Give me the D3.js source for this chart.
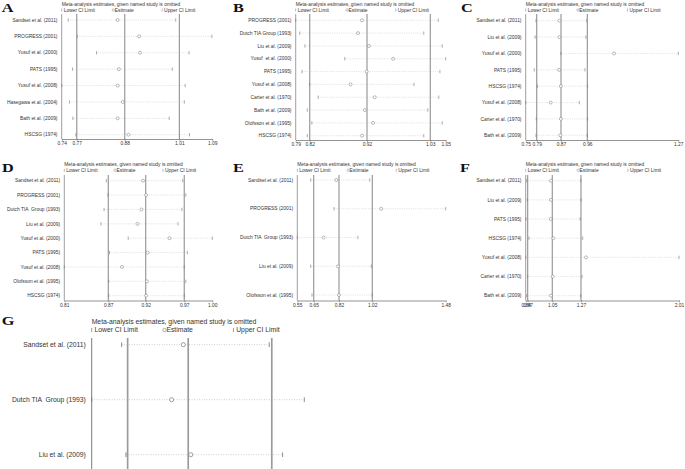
<!DOCTYPE html>
<html>
<head>
<meta charset="utf-8">
<script src="https://cdn.jsdelivr.net/npm/d3@7"></script>
<style>
body{margin:0;background:#fff}
svg{display:block}
text{white-space:pre}
</style>
</head>
<body>
<svg id="chart" width="685" height="469"></svg>
<script>
// A
var studiesA=["Sandset et al. (2011)","PROGRESS (2001)","Yusuf et al. (2000)","PATS (1995)","Yusuf et al. (2008)","Hasegawa et al. (2004)","Bath et al. (2009)","HSCSG (1974)"];
var lowerA=[0.755,0.776,0.821,0.765,0.740,0.758,0.766,0.773];
var estA=[0.870,0.920,0.922,0.873,0.870,0.882,0.870,0.895];
var upperA=[1.005,1.089,1.036,0.997,1.027,1.025,0.990,1.037];
var ticksA=[0.74,0.775,0.8865,1.0135,1.09];
var tickLabelsA=["0.74","0.77","0.88","1.01","1.09"];

// B
var studiesB=["PROGRESS (2001)","Dutch TIA Group (1993)","Liu et al. (2009)","Yusuf  et al. (2000)","PATS (1995)","Yusuf et al. (2008)","Carter et al. (1970)","Bath et al. (2009)","Olofsson et al. (1995)","HSCSG (1974)"];
var lowerB=[0.790,0.797,0.806,0.875,0.801,0.814,0.829,0.810,0.818,0.810];
var estB=[0.905,0.898,0.917,0.959,0.913,0.885,0.927,0.910,0.924,0.905];
var upperB=[1.037,1.012,1.044,1.050,1.040,0.995,1.038,1.019,1.044,1.012];
var ticksB=[0.79,0.8143,0.9136,1.0233,1.05];
var tickLabelsB=["0.79","0.82","0.92","1.03","1.05"];

// C
var studiesC=["Sandset et al. (2011)","Liu et al. (2009)","Yusuf et al. (2000)","PATS (1995)","HSCSG (1974)","Yusuf et al. (2008)","Carter et al. (1970)","Bath et al. (2009)"];
var lowerC=[0.785,0.782,0.870,0.779,0.790,0.750,0.786,0.785];
var estC=[0.865,0.865,1.051,0.864,0.870,0.835,0.870,0.868];
var upperC=[0.958,0.955,1.270,0.952,0.961,0.933,0.961,0.960];
var ticksC=[0.75,0.7875,0.8703,0.96,1.27];
var tickLabelsC=["0.75","0.79","0.87","0.96","1.27"];

// D
var studiesD=["Sandset et al. (2011)","PROGRESS (2001)","Dutch TIA  Group (1993)","Liu et al. (2009)","Yusuf et al. (2000)","PATS (1995)","Yusuf et al. (2008)","Olofsson et al. (1995)","HSCSG (1974)"];
var lowerD=[0.864,0.866,0.861,0.857,0.892,0.868,0.810,0.867,0.867];
var estD=[0.911,0.915,0.909,0.904,0.945,0.917,0.884,0.916,0.915];
var upperD=[0.962,0.966,0.961,0.956,1.000,0.968,0.964,0.966,0.964];
var ticksD=[0.81,0.8665,0.9145,0.964,1.00];
var tickLabelsD=["0.81","0.87","0.92","0.97","1.00"];

// E
var studiesE=["Sandset et al. (2011)","PROGRESS (2001)","Dutch TIA  Group (1993)","Liu et al. (2009)","Olofsson et al. (1995)"];
var lowerE=[0.634,0.780,0.550,0.634,0.642];
var estE=[0.794,1.076,0.715,0.805,0.811];
var upperE=[1.004,1.480,0.930,1.014,1.020];
var ticksE=[0.55,0.6528,0.8113,1.02,1.48];
var tickLabelsE=["0.55","0.65","0.82","1.02","1.48"];

// F
var studiesF=["Sandset et al. (2011)","Liu et al. (2009)","PATS (1995)","HSCSG (1974)","Yusuf et al. (2008)","Carter et al. (1970)","Bath et al. (2009)"];
var lowerF=[0.848,0.852,0.842,0.865,0.840,0.855,0.848];
var estF=[1.033,1.033,1.031,1.051,1.300,1.046,1.033];
var upperF=[1.260,1.262,1.255,1.275,2.010,1.270,1.260];
var ticksF=[0.84,0.855,1.043,1.262,2.01];
var tickLabelsF=["0.84","0.87","1.05","1.27","2.01"];

// G (its x axis is cut off in the figure, values estimated from positions)
var studiesG=["Sandset et al. (2011)","Dutch TIA  Group (1993)","Liu et al. (2009)"];
var lowerG=[0.741,0.600,0.761];
var estG=[1.031,0.976,1.066];
var upperG=[1.435,1.600,1.498];
var ticksG=[0.60,0.769,1.054,1.447,1.60];

var title="Meta-analysis estimates, given named study is omitted";

var panels=[
  {letter:"A",studies:studiesA,lower:lowerA,est:estA,upper:upperA,ticks:ticksA,labels:tickLabelsA},
  {letter:"B",studies:studiesB,lower:lowerB,est:estB,upper:upperB,ticks:ticksB,labels:tickLabelsB},
  {letter:"C",studies:studiesC,lower:lowerC,est:estC,upper:upperC,ticks:ticksC,labels:tickLabelsC},
  {letter:"D",studies:studiesD,lower:lowerD,est:estD,upper:upperD,ticks:ticksD,labels:tickLabelsD},
  {letter:"E",studies:studiesE,lower:lowerE,est:estE,upper:upperE,ticks:ticksE,labels:tickLabelsE},
  {letter:"F",studies:studiesF,lower:lowerF,est:estF,upper:upperF,ticks:ticksF,labels:tickLabelsF},
  {letter:"G",studies:studiesG,lower:lowerG,est:estG,upper:upperG,ticks:ticksG,labels:null}
];

// where each panel sits on the page
var layout={
  A:{x0:61.7,x1:212.3,top:14,row0:20,row1:134.7,axisY:139,titleY:4,lx:1.7,ly:11.7,fs:4.9},
  B:{x0:295.7,x1:445.7,top:14,row0:20.3,row1:135.7,axisY:140,titleY:4,lx:233,ly:11.7,fs:4.9},
  C:{x0:525.7,x1:678.3,top:14,row0:20.7,row1:135.3,axisY:140,titleY:4,lx:461,ly:11.7,fs:4.9},
  D:{x0:64.3,x1:212.3,top:175,row0:180.7,row1:295.7,axisY:300.5,titleY:164.3,lx:2,ly:172,fs:4.9},
  E:{x0:297.3,x1:445.7,top:175,row0:180,row1:295,axisY:300.5,titleY:164.3,lx:233,ly:172,fs:4.9},
  F:{x0:525.7,x1:679,top:175,row0:180.7,row1:295.7,axisY:300.5,titleY:164.3,lx:460,ly:172,fs:4.9},
  G:{x0:91.7,x1:304.3,top:338,row0:344.7,row1:454.7,axisY:480,titleY:321.7,lx:1.7,ly:325,fs:6.8}
};

var svg=d3.select("#chart");
var font="Liberation Sans, Arial, sans-serif";

function drawPanel(p){
  var L=layout[p.letter], fs=L.fs, k=fs/4.9;
  var g=svg.append("g");
  var x=d3.scaleLinear().domain([p.ticks[0],p.ticks[p.ticks.length-1]]).range([L.x0,L.x1]);
  var y=d3.scalePoint().domain(p.studies).range([L.row0,L.row1]);

  //panel letter
  g.append("text")
    .attr("transform","translate("+L.lx+","+L.ly+") scale(1.3,1)")
    .attr("font-family","Liberation Serif, Times New Roman, serif")
    .attr("font-weight","bold")
    .attr("font-size",12.5)
    .attr("fill","#111")
    .text(p.letter);

  //title + legend
  g.append("text")
    .attr("x",L.x0).attr("y",L.titleY).attr("dy","0.35em")
    .attr("font-family",font).attr("font-size",fs).attr("fill","#333")
    .text(title);
  var w=L.x1-L.x0, ly=L.titleY+6*k;
  [0,2].forEach(function(j){
    var lx=L.x0+j*w/3;
    g.append("line").attr("x1",lx).attr("x2",lx).attr("y1",ly-1.5*k).attr("y2",ly+1.5*k)
      .attr("stroke","#888").attr("stroke-width",0.6*k);
  });
  g.append("circle").attr("cx",L.x0+w/3+1.4*k).attr("cy",ly).attr("r",1.2*k)
    .attr("fill","none").attr("stroke","#888").attr("stroke-width",0.5*k);
  var legTxt=[["Lower CI Limit",L.x0+2*k],["Estimate",L.x0+w/3+2.8*k],["Upper CI Limit",L.x0+2*w/3+2*k]];
  legTxt.forEach(function(t){
    g.append("text").attr("x",t[1]).attr("y",ly).attr("dy","0.35em")
      .attr("font-family",font).attr("font-size",fs).attr("fill","#333").text(t[0]);
  });

  //reference lines for overall lower, estimate, upper
  g.selectAll(".ref").data(p.ticks.slice(1,4)).enter().append("line")
    .attr("x1",d=>x(d)).attr("x2",d=>x(d))
    .attr("y1",L.top).attr("y2",L.axisY)
    .attr("stroke","#9a9a9a").attr("stroke-width",1.2*k);

  //left axis line
  g.append("line").attr("x1",L.x0).attr("x2",L.x0).attr("y1",L.top).attr("y2",L.axisY)
    .attr("stroke","#777").attr("stroke-width",0.7*k);

  //x axis (not visible for G, the figure is cut there)
  if (p.labels){
    var axis=d3.axisBottom(x)
      .tickValues(p.ticks)
      .tickFormat(function(d,i){return p.labels[i];})
      .tickSize(1.8*k).tickSizeOuter(0).tickPadding(1.2*k);
    var ax=g.append("g").attr("transform","translate(0,"+L.axisY+")").call(axis);
    ax.select(".domain").attr("stroke","#666").attr("stroke-width",0.7*k);
    ax.selectAll(".tick line").attr("stroke","#666").attr("stroke-width",0.6*k);
    ax.selectAll(".tick text").attr("font-family",font).attr("font-size",fs).attr("fill","#333");
  }

  //study rows
  var rows=g.selectAll(".row").data(p.studies).enter().append("g");
  rows.append("text")
    .attr("x",L.x0-4.2*k).attr("y",d=>y(d)).attr("dy","0.35em")
    .attr("text-anchor","end")
    .attr("font-family",font).attr("font-size",fs).attr("fill","#333")
    .text(d=>d);
  rows.append("line")
    .attr("x1",(d,i)=>x(p.lower[i])).attr("x2",(d,i)=>x(p.upper[i]))
    .attr("y1",d=>y(d)).attr("y2",d=>y(d))
    .attr("stroke","#aaa").attr("stroke-width",0.5*k).attr("stroke-dasharray",(0.6*k)+","+(1.2*k));
  ["lower","upper"].forEach(function(key){
    rows.append("line")
      .attr("x1",(d,i)=>x(p[key][i])).attr("x2",(d,i)=>x(p[key][i]))
      .attr("y1",d=>y(d)-1.7*k).attr("y2",d=>y(d)+1.7*k)
      .attr("stroke","#777").attr("stroke-width",0.6*k);
  });
  rows.append("circle")
    .attr("cx",(d,i)=>x(p.est[i])).attr("cy",d=>y(d)).attr("r",1.5*k)
    .attr("fill","#fff").attr("stroke","#777").attr("stroke-width",0.5*k);
}

panels.forEach(drawPanel);
</script>
</body>
</html>
